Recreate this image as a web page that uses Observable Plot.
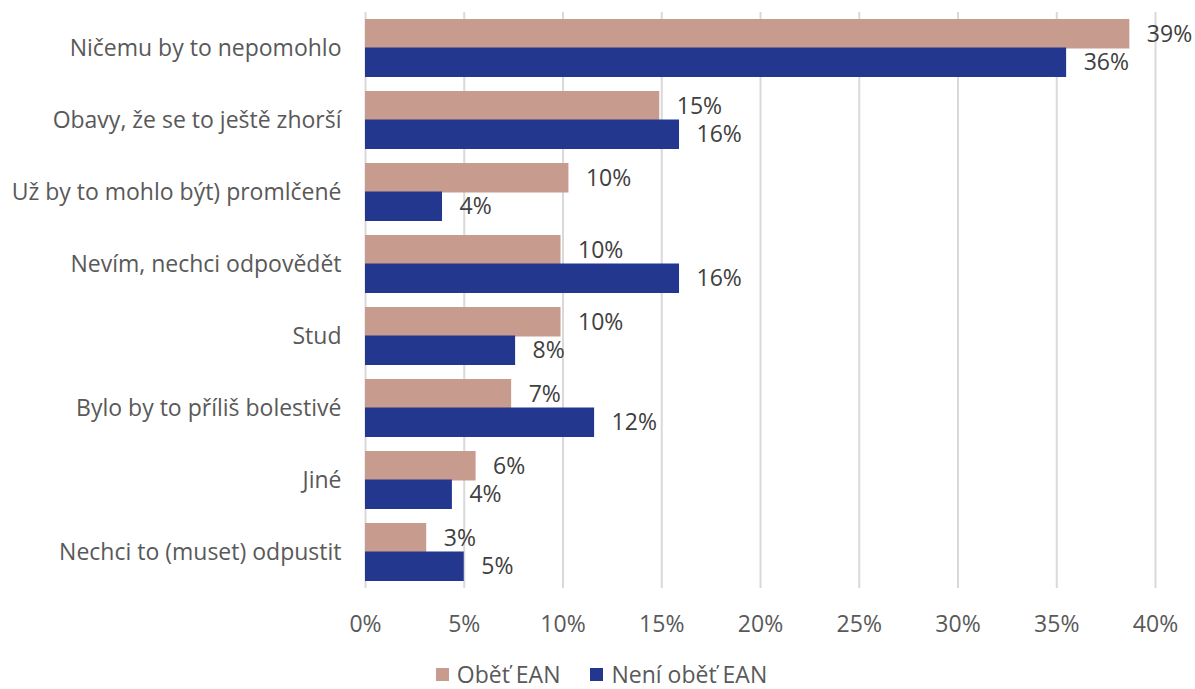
<!DOCTYPE html>
<html>
<head>
<meta charset="utf-8">
<script src="https://cdn.jsdelivr.net/npm/d3@7"></script>
<script src="https://cdn.jsdelivr.net/npm/@observablehq/plot@0.6"></script>
<style>
  html, body { margin: 0; padding: 0; background: #fff; }
  body { width: 1195px; font-family: "Open Sans", "Noto Sans", sans-serif; color: #595959; }
  #legend { display: flex; justify-content: center; gap: 30px; font-size: 23px; margin-top: 22px; padding-left: 8px; line-height: 1.1; }
  #legend span.item { display: flex; align-items: center; gap: 8px; }
  #legend span.sw { width: 13px; height: 13px; display: inline-block; }
</style>
</head>
<body>
<div id="chart"></div>
<div id="legend"></div>
<script>
const categories = [
  "Ničemu by to nepomohlo",
  "Obavy, že se to ještě zhorší",
  "Už by to mohlo být) promlčené",
  "Nevím, nechci odpovědět",
  "Stud",
  "Bylo by to příliš bolestivé",
  "Jiné",
  "Nechci to (muset) odpustit"
];
const seriesNames = ["Oběť EAN", "Není oběť EAN"];
const seriesColors = ["#C89B8F", "#24378F"];
const obetValues = [0.387, 0.149, 0.103, 0.099, 0.099, 0.074, 0.056, 0.031];
const neniValues = [0.355, 0.159, 0.039, 0.159, 0.076, 0.116, 0.044, 0.050];
const xTicks = [0, 0.05, 0.10, 0.15, 0.20, 0.25, 0.30, 0.35, 0.40];

const obet = categories.map((c, i) => ({category: c, value: obetValues[i]}));
const neni = categories.map((c, i) => ({category: c, value: neniValues[i]}));

const half = 28.5;
const fs = 23;
const pct = d => Math.round(d.value * 100) + "%";

const chart = Plot.plot({
  width: 1195,
  height: 640,
  marginLeft: 365,
  marginRight: 40,
  marginTop: 12,
  marginBottom: 52,
  style: {fontFamily: "'Open Sans', 'Noto Sans', sans-serif", fontSize: fs + "px", color: "#595959", background: "#fff"},
  x: {domain: [0, 0.40], label: null},
  y: {domain: categories, paddingInner: 0.2, paddingOuter: 0.1, label: null},
  marks: [
    Plot.ruleX(xTicks, {stroke: "#d9d9d9", strokeWidth: 2}),
    Plot.barX(obet, {x: "value", y: "category", fill: seriesColors[0], insetBottom: half}),
    Plot.barX(neni, {x: "value", y: "category", fill: seriesColors[1], insetTop: half}),
    Plot.text(obet, {x: "value", y: "category", text: pct, dy: -half / 2, dx: 17, textAnchor: "start", fill: "#404040", fontSize: fs}),
    Plot.text(neni, {x: "value", y: "category", text: pct, dy: half / 2, dx: 17, textAnchor: "start", fill: "#404040", fontSize: fs}),
    Plot.axisX({ticks: xTicks, tickFormat: d => Math.round(d * 100) + "%", tickSize: 0, tickPadding: 27, fontSize: fs, fill: "#595959", label: null}),
    Plot.axisY({tickSize: 0, tickPadding: 24, fontSize: fs, fill: "#595959", label: null})
  ]
});
document.getElementById("chart").appendChild(chart);

const legend = document.getElementById("legend");
seriesNames.forEach((n, i) => {
  const item = document.createElement("span");
  item.className = "item";
  const sw = document.createElement("span");
  sw.className = "sw";
  sw.style.background = seriesColors[i];
  const t = document.createElement("span");
  t.textContent = n;
  item.appendChild(sw);
  item.appendChild(t);
  legend.appendChild(item);
});
</script>
</body>
</html>
